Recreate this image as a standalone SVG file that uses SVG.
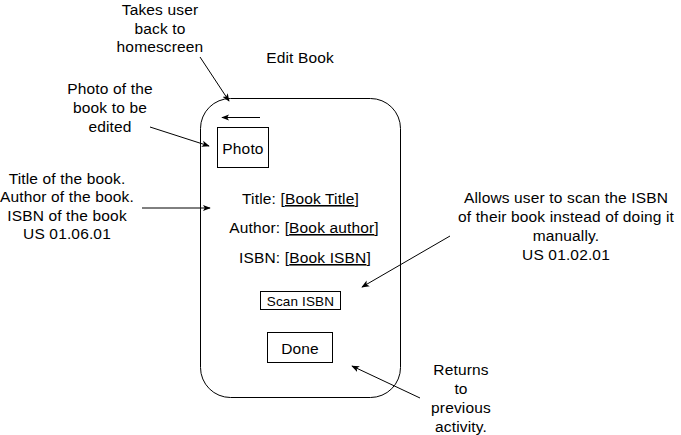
<svg xmlns="http://www.w3.org/2000/svg" width="681" height="435" viewBox="0 0 681 435">
<defs>
<style>
text{font-family:"Liberation Sans",Arial,sans-serif;font-size:15.5px;letter-spacing:0.15px;fill:#000;text-anchor:middle}
.u{text-decoration:underline}
.box{fill:#fff;stroke:#000;stroke-width:1}
.c{stroke:#000;stroke-width:1;fill:none;marker-end:url(#ah)}
</style>
<marker id="ah" viewBox="0 0 10 10" refX="9" refY="5" markerWidth="8" markerHeight="8" markerUnits="userSpaceOnUse" orient="auto">
<path d="M0,1 L10,5 L0,9 L2.5,5 Z" fill="#000"/>
</marker>
</defs>
<rect width="681" height="435" fill="#fff"/>
<g id="phone"><rect class="box" x="200.5" y="98.5" width="200" height="299" rx="30"/></g>
<g id="back"><line class="c" x1="260" y1="117.5" x2="222" y2="117.5"/></g>
<g id="photo"><rect class="box" x="217.5" y="127.5" width="51" height="40"/><text x="243" y="154">Photo</text></g>
<g id="title"><text x="300.5" y="204">Title: [<tspan class="u">Book Title</tspan>]</text></g>
<g id="author"><text x="304" y="233">Author: [<tspan class="u">Book author</tspan>]</text></g>
<g id="isbn"><text x="305" y="263">ISBN: [<tspan class="u">Book ISBN</tspan>]</text></g>
<g id="scan"><rect class="box" x="260.5" y="291.5" width="80" height="18"/><text x="300.5" y="305.5" style="font-size:13.5px">Scan ISBN</text></g>
<g id="done"><rect class="box" x="267.5" y="332.5" width="65" height="30"/><text x="300" y="354">Done</text></g>
<g id="labels">
<text x="300" y="63">Edit Book</text>
<text x="160" y="15">Takes user</text>
<text x="160" y="34">back to</text>
<text x="160" y="52">homescreen</text>
<text x="110" y="94">Photo of the</text>
<text x="110" y="113">book to be</text>
<text x="110" y="132">edited</text>
<text x="67" y="184">Title of the book.</text>
<text x="67" y="202">Author of the book.</text>
<text x="67" y="221">ISBN of the book</text>
<text x="67" y="239">US 01.06.01</text>
<text x="566" y="203">Allows user to scan the ISBN</text>
<text x="566" y="222">of their book instead of doing it</text>
<text x="566" y="241">manually.</text>
<text x="566" y="260">US 01.02.01</text>
<text x="461" y="375">Returns</text>
<text x="461" y="394">to</text>
<text x="461" y="413">previous</text>
<text x="461" y="432">activity.</text>
</g>
<g id="connectors">
<line class="c" x1="200" y1="57" x2="229" y2="101"/>
<line class="c" x1="150" y1="127" x2="209" y2="146"/>
<line class="c" x1="142" y1="208" x2="210" y2="208"/>
<line class="c" x1="450" y1="236" x2="362" y2="287"/>
<line class="c" x1="420" y1="398" x2="352" y2="366"/>
</g>
</svg>
